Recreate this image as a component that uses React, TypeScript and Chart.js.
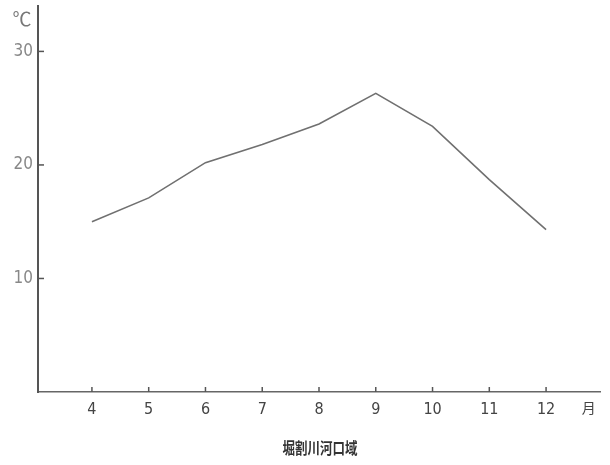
import React, { useEffect, useRef } from "react";
import { Chart, registerables } from "chart.js";

Chart.register(...registerables);

const months = [4, 5, 6, 7, 8, 9, 10, 11, 12];
const temps = [15.0, 17.1, 20.2, 21.8, 23.6, 26.3, 23.4, 18.7, 14.3];
const yTicks = [10, 20, 30];
const unitY = "℃";
const unitX = "月";
const caption = "堀割川河口域";

const numFont = "'Liberation Sans Narrow', 'DejaVu Sans Condensed', 'Noto Sans', sans-serif";

const decorPlugin = {
  id: "decor",
  afterDraw(chart: any) {
    const { ctx, chartArea, scales } = chart;
    const x = scales.x;
    const y = scales.y;
    ctx.save();
    ctx.strokeStyle = "#555";
    ctx.lineWidth = 1.5;
    yTicks.forEach((v) => {
      const py = y.getPixelForValue(v);
      ctx.beginPath();
      ctx.moveTo(chartArea.left, py);
      ctx.lineTo(chartArea.left + 6, py);
      ctx.stroke();
    });
    months.forEach((m) => {
      const px = x.getPixelForValue(m);
      ctx.beginPath();
      ctx.moveTo(px, chartArea.bottom);
      ctx.lineTo(px, chartArea.bottom - 5);
      ctx.stroke();
    });
    ctx.fillStyle = "#777";
    ctx.font = "19px 'Noto Sans CJK JP', sans-serif";
    ctx.textAlign = "center";
    ctx.textBaseline = "middle";
    ctx.fillText(unitY, 22, 19);
    ctx.fillStyle = "#444";
    ctx.font = "14px 'Noto Sans CJK JP', sans-serif";
    ctx.fillText(unitX, x.getPixelForValue(12.75), 408);
    ctx.fillStyle = "#333";
    ctx.font = "bold 16px 'Noto Sans CJK JP', sans-serif";
    ctx.translate(320, 448);
    ctx.scale(0.78, 1);
    ctx.fillText(caption, 0, 0);
    ctx.restore();
  },
};

export default function App() {
  const ref = useRef<HTMLCanvasElement | null>(null);
  useEffect(() => {
    if (!ref.current) return;
    const chart = new Chart(ref.current, {
      type: "line",
      data: {
        datasets: [
          {
            data: months.map((m, i) => ({ x: m, y: temps[i] })),
            borderColor: "#707070",
            borderWidth: 1.6,
            pointRadius: 0,
            tension: 0,
            fill: false,
          },
        ],
      },
      options: {
        animation: false,
        responsive: true,
        maintainAspectRatio: false,
        layout: { padding: { left: 0, right: 10, top: 6, bottom: 0 } },
        plugins: { legend: { display: false }, tooltip: { enabled: false }, title: { display: false } },
        scales: {
          x: {
            type: "linear",
            min: 3.05,
            max: 12.95,
            afterBuildTicks: (s: any) => {
              s.ticks = months.map((v) => ({ value: v }));
            },
            afterFit: (s: any) => {
              s.height = 73;
              s.paddingLeft = 0;
              s.paddingRight = 0;
            },
            grid: { display: false, drawTicks: false },
            border: { display: true, color: "#666", width: 1.5 },
            ticks: {
              padding: 8,
              color: "#444",
              font: { family: numFont, size: 16 },
              maxRotation: 0,
              autoSkip: false,
              callback: (v: any) => String(v),
            },
          },
          y: {
            min: 0,
            max: 34,
            afterBuildTicks: (s: any) => {
              s.ticks = yTicks.map((v) => ({ value: v }));
            },
            afterFit: (s: any) => {
              s.width = 38;
              s.paddingTop = 0;
              s.paddingBottom = 0;
            },
            grid: { display: false, drawTicks: false },
            border: { display: true, color: "#555", width: 2 },
            ticks: {
              padding: 5,
              color: "#888",
              font: { family: numFont, size: 17 },
              callback: (v: any) => String(v),
            },
          },
        },
      },
      plugins: [decorPlugin],
    });
    return () => chart.destroy();
  }, []);
  return (
    <div style={{ position: "absolute", left: 0, top: 0, width: 610, height: 465, background: "#fff" }}>
      <canvas ref={ref} />
    </div>
  );
}
